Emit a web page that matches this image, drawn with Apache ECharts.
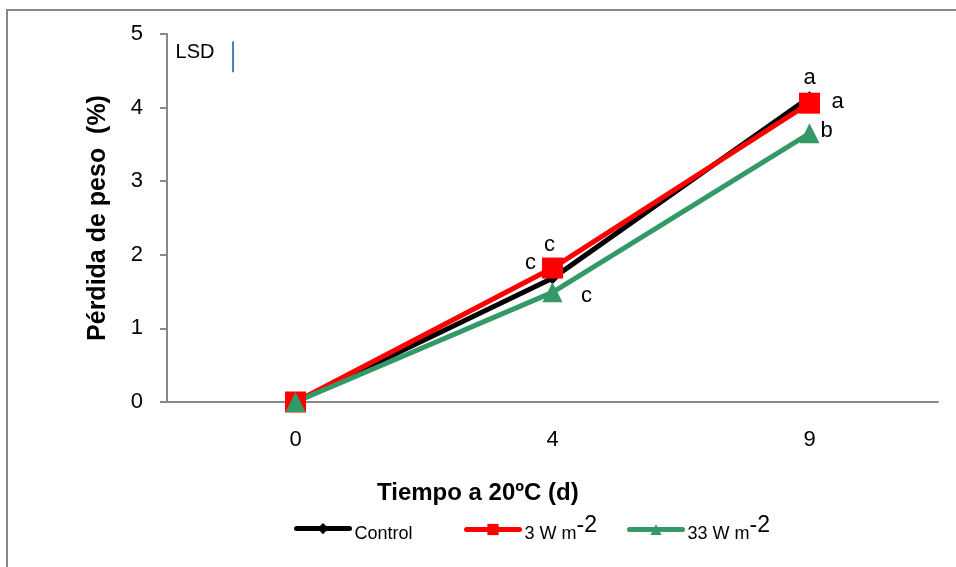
<!DOCTYPE html>
<html>
<head>
<meta charset="utf-8">
<script src="https://cdn.jsdelivr.net/npm/echarts@6/dist/echarts.min.js"></script>
<style>
  html, body { margin: 0; padding: 0; background: #fff; }
  #chart { width: 956px; height: 567px; }
</style>
</head>
<body>
<div id="chart"></div>
<script>
// dias de almacenamiento a 20 ºC
const days = ['0', '4', '9']
const yTicks = [0, 1, 2, 3, 4, 5]

// series
const seriesNames = ['Control', '3 W m-2', '33 W m-2']

// perdida de peso (%)
const control = [0, 1.68, 4.14]
const w3 = [0, 1.82, 4.06]
const w33 = [0, 1.49, 3.65]

// letras de significancia
const controlLetters = ['', 'c', 'a']
const w3Letters = ['', 'c', 'a']
const w33Letters = ['', 'c', 'b']

// barra LSD (posicion en eje auxiliar 0..3)
const lsdX = 0.257
const lsdTop = 4.9
const lsdValue = 0.42

const FONT = 'Liberation Sans, Arial, sans-serif'

// desplazamientos de las letras respecto al punto
const controlOffsets = [null, [-22, -15], [0, -19]]
const w3Offsets = [null, [-3, -23], [28, -1]]
const w33Offsets = [null, [34, 4], [17, -2]]

// posicion de cada entrada de leyenda
const legendLefts = [294, 464, 627]
const legendTops = [523, 514, 514]

function withLetters(values, letters, offsets) {
  return values.map((v, i) => {
    if (!letters[i]) return { value: v, label: { show: false } }
    return {
      value: v,
      label: {
        show: true,
        formatter: letters[i],
        position: 'inside',
        offset: offsets[i],
        color: '#000',
        fontSize: 22,
        fontFamily: FONT,
      },
    }
  })
}

const legendRich = {
  b: { fontSize: 18, fontFamily: FONT, padding: [10, 0, 0, 0], color: '#000' },
  s: { fontSize: 23, fontFamily: FONT, padding: [0, 0, 8, 0], color: '#000' },
}

const legends = seriesNames.map((name, i) => ({
  left: legendLefts[i],
  top: legendTops[i],
  padding: 0,
  itemWidth: 53,
  itemHeight: 14,
  lineStyle: { width: 5, cap: 'round' },
  data: [name],
  formatter: function (n) {
    if (n.indexOf(' m-') < 0) return '{b|' + n + '}'
    const parts = n.split(' m')
    return '{b|' + parts[0] + ' m}{s|' + parts[1] + '}'
  },
  textStyle: { fontFamily: FONT, color: '#000', rich: legendRich },
}))

const chart = echarts.init(document.getElementById('chart'), null, { renderer: 'canvas' })

const option = {
  animation: false,
  backgroundColor: '#fff',
  textStyle: { fontFamily: FONT },
  graphic: [
    {
      type: 'rect',
      shape: { x: 7, y: 10, width: 1000, height: 600 },
      style: { fill: 'none', stroke: '#888', lineWidth: 2 },
      silent: true,
      z: -1,
    },
  ],
  title: {
    text: 'Tiempo a 20ºC (d)',
    left: 377,
    top: 481,
    padding: 0,
    textStyle: { fontFamily: FONT, fontSize: 24, fontWeight: 'bold', color: '#000' },
  },
  grid: { left: 167, right: 18, top: 34, bottom: 165 },
  legend: legends,
  xAxis: [
    {
      type: 'category',
      data: days,
      boundaryGap: true,
      axisLine: { lineStyle: { color: '#888', width: 2 } },
      axisTick: { show: false },
      axisLabel: { margin: 27, fontSize: 22, color: '#000', fontFamily: FONT },
      splitLine: { show: false },
    },
    {
      type: 'value',
      min: 0,
      max: 3,
      show: false,
    },
  ],
  yAxis: {
    type: 'value',
    min: yTicks[0],
    max: yTicks[yTicks.length - 1],
    interval: 1,
    name: 'Pérdida de peso  (%)',
    nameLocation: 'middle',
    nameGap: 56,
    nameTextStyle: { fontSize: 25, fontWeight: 'bold', color: '#000', fontFamily: FONT },
    axisLine: { show: true, lineStyle: { color: '#888', width: 2 } },
    axisTick: { show: true, inside: false, length: 7, lineStyle: { color: '#888', width: 2 } },
    axisLabel: { margin: 24, fontSize: 22, color: '#000', fontFamily: FONT },
    splitLine: { show: false },
  },
  series: [
    {
      name: seriesNames[0],
      type: 'line',
      data: withLetters(control, controlLetters, controlOffsets),
      color: '#000',
      lineStyle: { width: 5, color: '#000' },
      symbol: 'diamond',
      symbolSize: 12,
      itemStyle: { color: '#000' },
    },
    {
      name: seriesNames[1],
      type: 'line',
      data: withLetters(w3, w3Letters, w3Offsets),
      color: '#ff0000',
      lineStyle: { width: 5, color: '#ff0000' },
      symbol: 'rect',
      symbolSize: 21,
      itemStyle: { color: '#ff0000' },
    },
    {
      name: seriesNames[2],
      type: 'line',
      data: withLetters(w33, w33Letters, w33Offsets),
      color: '#339966',
      lineStyle: { width: 5, color: '#339966' },
      symbol: 'triangle',
      symbolSize: 20,
      itemStyle: { color: '#339966' },
    },
    {
      name: 'LSD',
      type: 'line',
      xAxisIndex: 1,
      data: [
        {
          value: [lsdX, lsdTop],
          label: {
            show: true,
            formatter: 'LSD',
            position: 'inside',
            offset: [-38, 11],
            fontSize: 20,
            color: '#000',
            fontFamily: FONT,
          },
        },
        [lsdX, lsdTop - lsdValue],
      ],
      symbol: 'circle',
      symbolSize: 1,
      itemStyle: { color: 'rgba(0,0,0,0)' },
      lineStyle: { width: 2, color: '#4a7ebb' },
      silent: true,
    },
  ],
}

chart.setOption(option)
window.onresize = function () {
  chart.resize()
}
</script>
</body>
</html>
